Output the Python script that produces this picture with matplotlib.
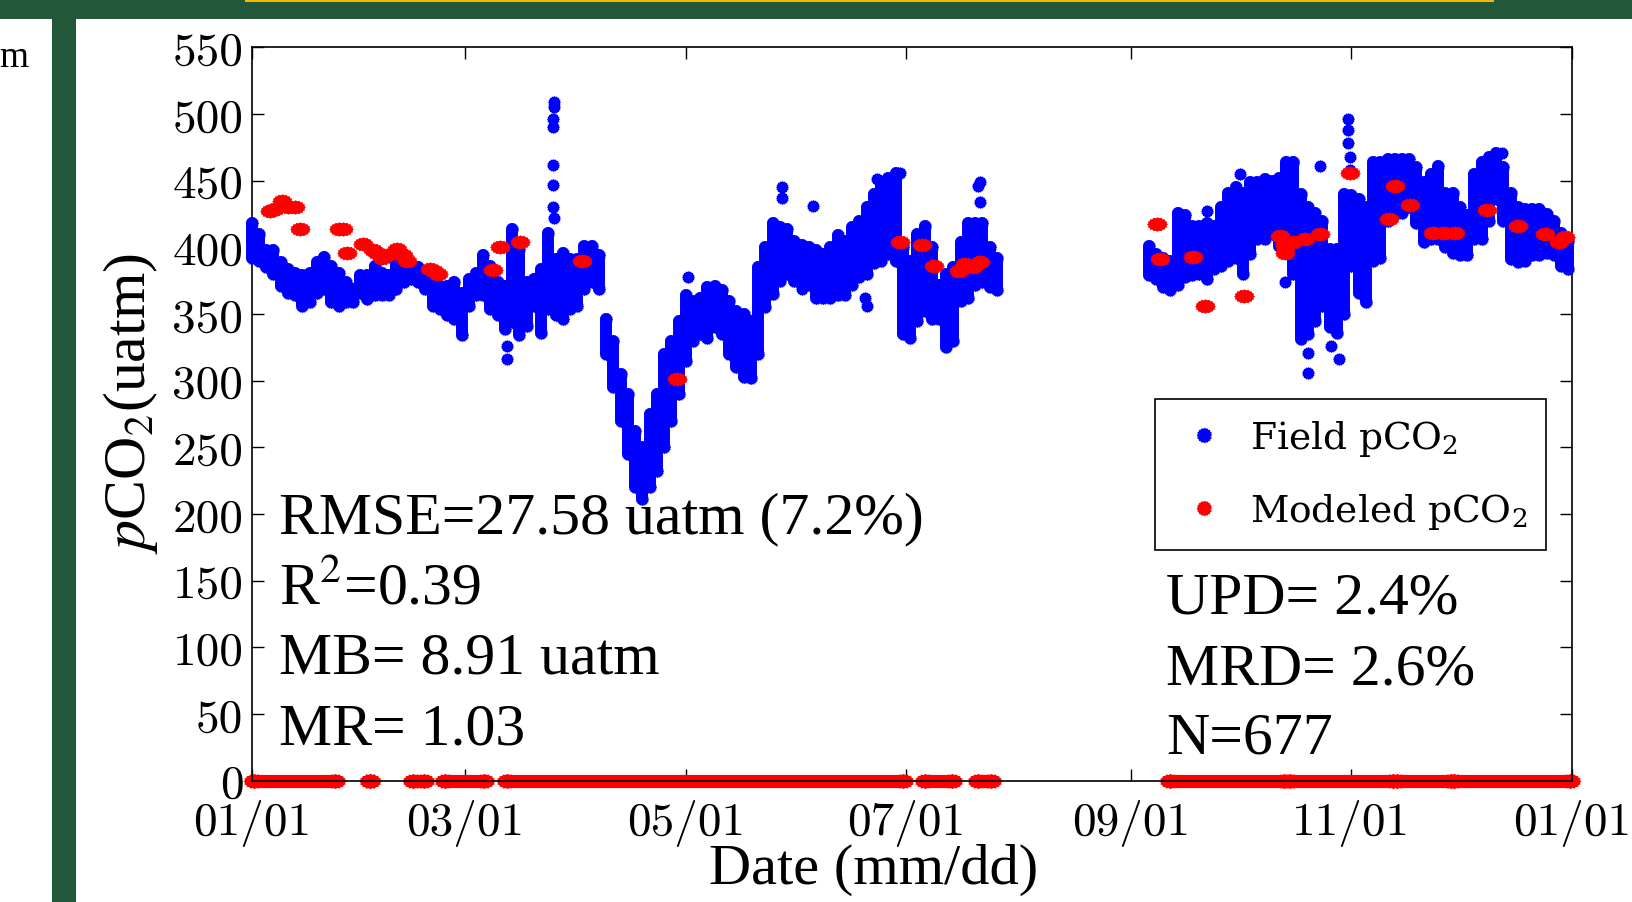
import numpy as np
import matplotlib
matplotlib.use('Agg')
import matplotlib.pyplot as plt
from matplotlib.font_manager import FontProperties
from matplotlib.lines import Line2D
from matplotlib.patches import Rectangle

plt.rcParams['mathtext.fontset'] = 'stix'
plt.rcParams['axes.formatter.use_mathtext'] = True

# ---- field pCO2: daily low / high of the hourly record (day of year) ----
field_day = [0, 2, 4, 6, 8, 10, 12, 14, 16, 18, 20, 22, 24, 26, 28, 30, 32, 34, 36, 38,
             40, 42, 44, 46, 48, 50, 52, 54, 56, 58, 60, 62, 64, 66, 68, 70, 72, 74, 76, 78,
             80, 82, 84, 86, 88, 90, 92, 94, 96, 98, 100, 102, 104, 106, 108, 110, 112, 114,
             116, 118, 120, 122, 124, 126, 128, 130, 132, 134, 136, 138, 140, 142, 144, 146,
             148, 150, 152, 154, 156, 158, 160, 162, 164, 166, 168, 170, 172, 174, 176, 178,
             180, 182, 184, 186, 188, 190, 192, 194, 196, 198, 200, 202, 204, 206,
             248, 250, 252, 254, 256, 258, 260, 262, 264, 266, 268, 270, 272, 274, 276, 278,
             280, 282, 284, 286, 288, 290, 292, 294, 296, 298, 300, 302, 304, 306, 308, 310,
             312, 314, 316, 318, 320, 322, 324, 326, 328, 330, 332, 334, 336, 338, 340, 342,
             344, 346, 348, 350, 352, 354, 356, 358, 360, 362, 364]
field_lo = [392, 390, 385, 380, 371, 366, 364, 356, 359, 366, 369, 359, 356, 359, 359, 366, 361, 364, 364, 364,
            369, 374, 376, 374, 369, 356, 354, 349, 346, 334, 356, 364, 364, 354, 349, 339, 344, 334, 341, 356,
            336, 354, 349, 346, 354, 356, 369, 374, 369, 320, 295, 270, 245, 220, 211, 220, 232, 250,
            270, 290, 315, 330, 335, 332, 340, 335, 320, 310, 303, 302, 320, 355, 365, 375,
            380, 375, 372, 372, 362, 362, 362, 364, 364, 372, 378, 380, 388, 390, 395, 390,
            335, 332, 345, 352, 346, 346, 325, 330, 360, 362, 372, 374, 370, 368,
            379, 376, 370, 368, 372, 378, 379, 380, 376, 384, 386, 390, 392, 380, 395, 406,
            406, 410, 401, 400, 380, 331, 335, 345, 356, 340, 336, 350, 386, 366, 359, 390,
            392, 420, 426, 426, 430, 418, 404, 406, 406, 400, 396, 394, 394, 406, 406, 420,
            436, 420, 391, 389, 390, 394, 394, 396, 394, 386, 384]
field_hi = [418, 410, 398, 398, 389, 384, 381, 379, 381, 389, 393, 386, 381, 374, 369, 379, 379, 386, 381, 379,
            389, 391, 386, 385, 381, 379, 371, 371, 374, 366, 376, 381, 394, 386, 374, 371, 414, 399, 374, 376,
            384, 411, 391, 396, 391, 391, 401, 401, 394, 346, 330, 305, 290, 262, 250, 275, 290, 320,
            330, 345, 364, 360, 362, 370, 371, 368, 360, 352, 350, 345, 385, 400, 418, 415,
            414, 405, 402, 400, 398, 395, 400, 409, 405, 415, 420, 430, 440, 449, 452, 456,
            400, 390, 410, 416, 400, 372, 380, 385, 404, 418, 418, 418, 400, 392,
            401, 395, 392, 390, 426, 424, 416, 416, 418, 416, 430, 441, 445, 441, 449, 449,
            451, 450, 452, 464, 464, 440, 430, 426, 420, 399, 399, 440, 439, 436, 430, 464,
            464, 466, 466, 466, 466, 460, 449, 455, 461, 441, 441, 430, 424, 455, 464, 468,
            471, 460, 441, 430, 429, 429, 429, 425, 420, 411, 405]

# isolated field readings away from the main band
field_out_day = [70.5, 70.5, 83.5, 83.6, 83.4, 83.4, 83.3, 83.3, 83.3, 83.5, 120.5, 146.5, 146.5,
                 152, 155.3, 169.5, 170, 172.8, 179.2, 200.8, 201.4, 201.4,
                 264, 273.3, 285.7, 288, 292, 292, 295.4, 298.3, 300.5, 303, 303, 303.2,
                 303.5, 303.5, 345.6]
field_out_val = [326, 316, 509, 505, 496, 490, 462, 447, 430, 422, 378, 445, 437,
                 369, 431, 362, 356, 451, 456, 446, 449, 434,
                 427, 455, 374, 464, 321, 306, 461, 326, 316, 496, 488, 478,
                 468, 458, 471]

# ---- modeled pCO2 ----
model_day = [5.1, 6.5, 8.3, 10, 12, 13.4, 24, 25.3, 26.3, 30.9, 33.5, 34.6, 36, 37.3, 40.1, 41.9,
             43, 49.3, 50.5, 51.6, 66.8, 68.7, 74.2, 91.2, 117.5, 179.2, 185.2, 188.5, 195.4,
             197.2, 199.5, 201.4,
             250.2, 251.1, 260.3, 263.6, 274.4, 284.3, 285.7, 285.7, 288, 291.2, 295.4, 303.7,
             314.3, 316.1, 320.3, 326.7, 329.5, 332.7, 341.5, 350.2, 357.6, 361.3, 363.1]
model_val = [427.5, 429, 435, 430, 430, 414, 414, 414, 396, 402.5, 398, 396, 392, 394, 399, 394,
             390, 384, 382, 380, 383, 400, 404, 390, 301, 404, 402, 386, 382.5,
             387.5, 385, 389,
             417.6, 391, 392.5, 355.8, 363.3, 408.8, 401, 396, 404, 406, 410, 456,
             421, 446, 432, 411, 411, 411, 428, 416, 410, 404, 408]

# stretches of days where the model returned 0 (start, end)
zero_start = [0.5, 32.7, 44.5, 53.5, 70.5, 186, 200.8, 254, 287, 316.5, 332.5]
zero_end = [23, 32.7, 47.5, 64.3, 180, 193.5, 204.5, 285.5, 315.5, 331.5, 364.5]

month_ticks = [0, 59, 120, 181, 243, 304, 365]
month_labels = ['01/01', '03/01', '05/01', '07/01', '09/01', '11/01', '01/01']
y_ticks = [0, 50, 100, 150, 200, 250, 300, 350, 400, 450, 500, 550]

stats_left = ['RMSE=27.58 uatm (7.2%)', 'R$^2$=0.39', 'MB= 8.91 uatm', 'MR= 1.03']
stats_right = ['UPD= 2.4%', 'MRD= 2.6%', 'N=677']

# jagged round marker like the MATLAB export
n = 32
ang = np.linspace(0, 2 * np.pi, n, endpoint=False)
rad = np.where(np.arange(n) % 2 == 0, 1.0, 0.88)
star = np.column_stack([rad * np.cos(ang), rad * np.sin(ang)])
oval = star * [1.45, 1.0]

fig = plt.figure(figsize=(16.32, 9.03), dpi=100)
fig.patch.set_facecolor('white')

# slide frame around the picture
green = '#23573a'
fig.patches.append(Rectangle((0, 1 - 20 / 903), 1, 20 / 903, transform=fig.transFigure,
                             facecolor=green, edgecolor='none', zorder=0))
fig.patches.append(Rectangle((245 / 1632, 1 - 3 / 903), 1249 / 1632, 3 / 903,
                             transform=fig.transFigure, facecolor='#f5b800',
                             edgecolor='none', zorder=1))
fig.patches.append(Rectangle((52 / 1632, 0), 24 / 1632, 1 - 20 / 903, transform=fig.transFigure,
                             facecolor=green, edgecolor='none', zorder=0))
fig.text(29 / 1632, 1 - 67 / 903, 'm', ha='right', va='baseline',
         family='Liberation Serif', fontsize=27)

ax = fig.add_axes([0.15423, 0.13433, 0.80901, 0.81218])

band = ax.vlines(field_day, field_lo, field_hi, colors='blue', linewidth=8.6, zorder=3,
                 clip_on=False)
band.set_capstyle('round')
ax.scatter(field_day, field_lo, s=90, marker=star, color='blue', lw=0, zorder=3, clip_on=False)
ax.scatter(field_day, field_hi, s=90, marker=star, color='blue', lw=0, zorder=3, clip_on=False)
ax.scatter(field_out_day, field_out_val, s=85, marker=star, color='blue', lw=0, zorder=3,
           clip_on=False)
ax.scatter(model_day, model_val, s=225, marker=oval, color='red', lw=0, zorder=4, clip_on=False)

zeros = ax.hlines([0] * len(zero_start), zero_start, zero_end, colors='red', linewidth=9.5,
                  zorder=2, clip_on=False)
zeros.set_capstyle('round')
ax.scatter(zero_start + zero_end, [0] * (2 * len(zero_start)), s=250, marker=oval,
           color='red', lw=0, zorder=2, clip_on=False)

ax.set_xlim(0, 365)
ax.set_ylim(0, 550)
ax.set_xticks(month_ticks)
ax.set_xticklabels(month_labels, fontfamily='cmr10', fontsize=34)
ax.set_yticks(y_ticks)
ax.set_yticklabels([str(v) for v in y_ticks], fontfamily='cmr10', fontsize=34)
ax.tick_params(direction='in', length=8.5, width=1, top=True, right=True, colors='black')
ax.tick_params(axis='x', pad=13)
ax.tick_params(axis='y', pad=6)
for sp in ax.spines.values():
    sp.set_linewidth(1.2)

fig.text(874 / 1632, 1 - 884 / 903, 'Date (mm/dd)', ha='center', va='baseline',
         family='Liberation Serif', fontsize=42)
fig.text(130 / 1632, 1 - 404 / 903, '$p$CO$_2$(uatm)', rotation=90, ha='center', va='center',
         family='Liberation Serif', fontsize=43)

for txt, yb in zip(stats_left, [0.339, 0.2424, 0.1469, 0.0514]):
    ax.text(0.0207, yb, txt, transform=ax.transAxes, ha='left', va='baseline',
            family='Liberation Serif', fontsize=43)
for txt, yb in zip(stats_right, [0.2287, 0.1332, 0.0378]):
    ax.text(0.6925, yb, txt, transform=ax.transAxes, ha='left', va='baseline',
            family='Liberation Serif', fontsize=43)

handles = [Line2D([], [], ls='none', marker=star, color='blue', markersize=10),
           Line2D([], [], ls='none', marker=star, color='red', markersize=10)]
leg = ax.legend(handles, ['Field pCO$_2$', 'Modeled pCO$_2$'], loc='upper left',
                bbox_to_anchor=(0.684, 0.5205), borderaxespad=0, fancybox=False,
                edgecolor='black', framealpha=1, handlelength=1.6, handletextpad=0.45,
                labelspacing=0.9, borderpad=0.5,
                prop=FontProperties(family='DejaVu Serif', size=27,
                                    math_fontfamily='dejavuserif'))
leg.get_frame().set_linewidth(1.2)

fig.savefig('out.png', dpi=100)
